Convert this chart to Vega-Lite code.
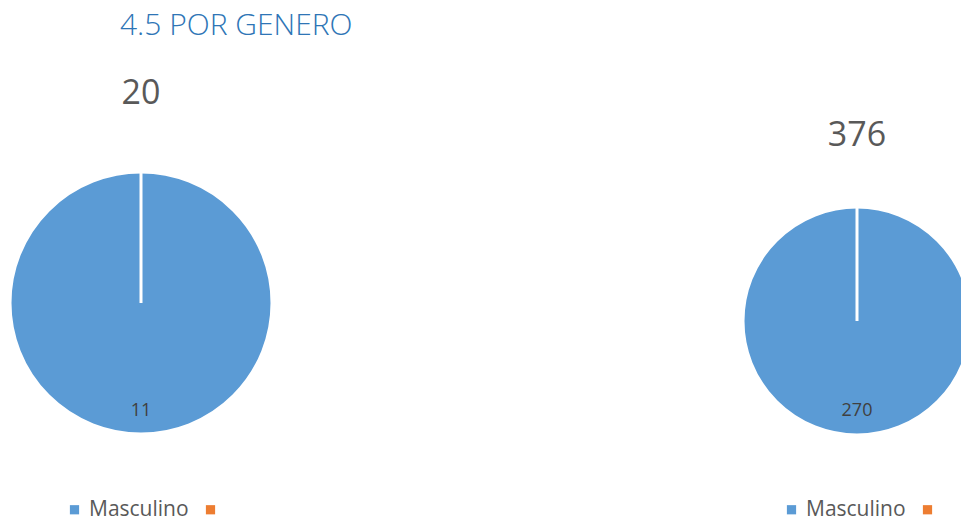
{
  "$schema": "https://vega.github.io/schema/vega-lite/v6.json",
  "padding": {"left": 4, "top": 11, "right": 0, "bottom": 0},
  "background": "white",
  "title": {"text": "4.5 POR GENERO", "anchor": "start", "dx": 116, "fontSize": 30, "fontWeight": 300, "font": "Open Sans", "color": "#2E75B6", "offset": 36},
  "datasets": {
    "a": [{"genero": "Masculino", "valor": 11}, {"genero": "", "valor": 0}],
    "b": [{"genero": "Masculino", "valor": 270}, {"genero": "", "valor": 0}]
  },
  "spacing": 481,
  "bounds": "flush",
  "hconcat": [
    {
      "width": 262,
      "height": 262,
      "data": {"name": "a"},
      "title": {"text": "20", "anchor": "middle", "offset": 55},
      "encoding": {
        "theta": {"field": "valor", "type": "quantitative", "stack": true},
        "order": {"field": "valor", "sort": "descending"}
      },
      "layer": [
        {
          "mark": {"type": "arc", "outerRadius": 131, "stroke": "white", "strokeWidth": 3},
          "encoding": {
            "color": {"field": "genero", "type": "nominal", "scale": {"domain": ["Masculino", ""], "range": ["#5B9BD5", "#ED7D31"]},
              "legend": {"orient": "none", "legendX": 54, "legendY": 327}}
          }
        },
        {
          "transform": [{"filter": "datum.valor > 0"}],
          "mark": {"type": "text", "radius": 108, "fontSize": 18, "color": "#404040", "font": "Open Sans"},
          "encoding": {"text": {"field": "valor", "type": "quantitative"}}
        }
      ]
    },
    {
      "width": 208,
      "height": 298,
      "data": {"name": "b"},
      "title": {"text": "376", "anchor": "middle", "offset": 19},
      "encoding": {
        "theta": {"field": "valor", "type": "quantitative", "stack": true},
        "order": {"field": "valor", "sort": "descending"}
      },
      "layer": [
        {
          "mark": {"type": "arc", "outerRadius": 114, "stroke": "white", "strokeWidth": 3},
          "encoding": {
            "color": {"field": "genero", "type": "nominal", "scale": {"domain": ["Masculino", ""], "range": ["#5B9BD5", "#ED7D31"]},
              "legend": {"orient": "none", "legendX": 28, "legendY": 327}}
          }
        },
        {
          "transform": [{"filter": "datum.valor > 0"}],
          "mark": {"type": "text", "radius": 90, "fontSize": 18, "color": "#404040", "font": "Open Sans"},
          "encoding": {"text": {"field": "valor", "type": "quantitative"}}
        }
      ]
    }
  ],
  "resolve": {"scale": {"color": "independent", "theta": "independent"}, "legend": {"color": "independent"}},
  "config": {
    "view": {"stroke": null},
    "title": {"font": "Open Sans", "fontSize": 34, "fontWeight": "normal", "color": "#595959"},
    "legend": {
      "direction": "horizontal",
      "title": null,
      "symbolType": "square",
      "symbolSize": 85,
      "symbolStrokeWidth": 0,
      "labelFont": "Open Sans",
      "labelFontSize": 21,
      "labelColor": "#595959",
      "labelOffset": 4,
      "columnPadding": 11
    }
  }
}
